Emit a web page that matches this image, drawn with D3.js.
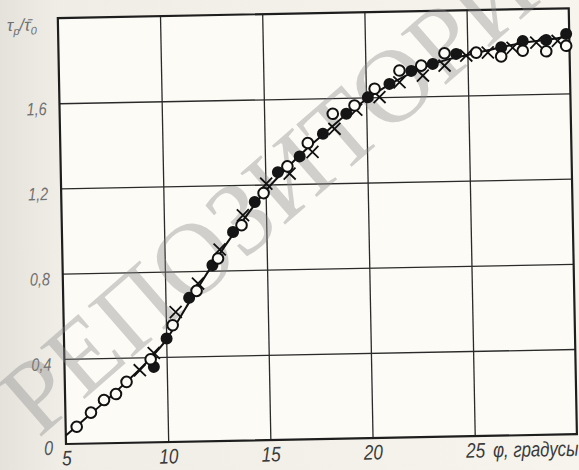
<!DOCTYPE html>
<html>
<head>
<meta charset="utf-8">
<script src="https://cdn.jsdelivr.net/npm/d3@7"></script>
<style>
  html, body { margin: 0; padding: 0; background: #f2f0e8; }
  svg { display: block; }
</style>
</head>
<body>
<svg id="chart" width="579" height="470"></svg>
<script>
// ---------- data ----------
const xTicks = [5, 10, 15, 20, 25, 30];
const yTicks = [0, 0.4, 0.8, 1.2, 1.6, 2.0];
const xTickLabels = ["5", "10", "15", "20", "25", ""];
const yTickLabels = ["0", "0,4", "0,8", "1,2", "1,6", ""];

const lineX = [5, 6, 7, 8, 9, 10, 11, 12, 13, 14, 15, 16, 17, 18, 19, 20, 21, 22, 23, 24, 25, 26, 27, 28, 29, 30];
const lineY = [0.04, 0.12, 0.20, 0.285, 0.375, 0.48, 0.63, 0.78, 0.92, 1.05, 1.17, 1.27, 1.36, 1.44, 1.52, 1.59, 1.65, 1.70, 1.74, 1.77, 1.79, 1.81, 1.83, 1.845, 1.855, 1.87];

const openX = [5.54, 6.25, 6.90, 7.49, 8.02, 9.22, 10.33, 11.53, 12.61, 13.79, 14.90, 16.09, 17.11, 18.36, 19.43, 20.43, 21.66, 22.73, 23.88, 25.43, 26.65, 27.71, 28.86, 29.84];
const openY = [0.08, 0.145, 0.203, 0.23, 0.286, 0.39, 0.548, 0.707, 0.857, 1.011, 1.16, 1.283, 1.391, 1.526, 1.563, 1.64, 1.723, 1.744, 1.80, 1.80, 1.78, 1.805, 1.80, 1.824];

const filledX = [9.37, 10.02, 11.16, 12.33, 13.37, 14.46, 15.62, 16.70, 17.86, 19.02, 20.09, 21.16, 22.24, 23.30, 24.45, 26.66, 27.72, 28.87, 29.85];
const filledY = [0.354, 0.486, 0.675, 0.826, 0.98, 1.119, 1.257, 1.329, 1.433, 1.525, 1.60, 1.661, 1.72, 1.751, 1.796, 1.823, 1.85, 1.853, 1.88];

const crossX = [8.68, 9.38, 10.49, 11.61, 12.70, 13.87, 15.04, 16.19, 17.33, 18.43, 19.51, 20.66, 21.65, 22.80, 23.87, 24.94, 26.0, 27.22, 28.38, 29.43];
const crossY = [0.34, 0.419, 0.61, 0.741, 0.899, 1.058, 1.204, 1.249, 1.348, 1.455, 1.543, 1.60, 1.668, 1.697, 1.742, 1.787, 1.80, 1.82, 1.842, 1.848];

const watermark = "РЕПОЗИТОРИЙ";
const xTitle = "φ, градусы";

// ---------- layout ----------
const svg = d3.select("#chart");
const L = 66, B = 444, W = 511, H = 426;
const tilt = -1.1;

// paper background
const defs = svg.append("defs");
const grad = defs.append("linearGradient").attr("id", "paper").attr("x1", 0).attr("x2", 1).attr("y1", 0).attr("y2", 0);
grad.append("stop").attr("offset", "0").attr("stop-color", "#e4e2db");
grad.append("stop").attr("offset", "0.1").attr("stop-color", "#efede6");
grad.append("stop").attr("offset", "1").attr("stop-color", "#f6f4ec");
svg.append("rect").attr("width", 579).attr("height", 470).attr("fill", "url(#paper)");

const g = svg.append("g").attr("transform", `rotate(${tilt}, ${L}, ${B})`);

const x = d3.scaleLinear().domain([5, 30]).range([L, L + W]);
const y = d3.scaleLinear().domain([0, 2.0]).range([B, B - H]);

// plot area
g.append("rect").attr("x", L).attr("y", B - H).attr("width", W).attr("height", H).attr("fill", "#fcfbf6");

// grid via axes
const gx = g.append("g").attr("transform", `translate(0,${B})`)
  .call(d3.axisBottom(x).tickValues(xTicks.slice(1, -1)).tickSize(-H).tickFormat(""));
gx.select(".domain").remove();
gx.selectAll(".tick line").attr("stroke", "#2a2a2a").attr("stroke-width", 1.3);

const gy = g.append("g").attr("transform", `translate(${L},0)`)
  .call(d3.axisLeft(y).tickValues(yTicks.slice(1, -1)).tickSize(-W).tickFormat(""));
gy.select(".domain").remove();
gy.selectAll(".tick line").attr("stroke", "#2a2a2a").attr("stroke-width", 1.3);

// frame
g.append("rect").attr("x", L).attr("y", B - H).attr("width", W).attr("height", H)
  .attr("fill", "none").attr("stroke", "#1e1e1e").attr("stroke-width", 2.2);

// tick labels
const fontFam = "'Liberation Sans', 'DejaVu Sans', sans-serif";
const lx = g.append("g").attr("transform", `translate(0,${B})`)
  .call(d3.axisBottom(x).tickValues(xTicks).tickSize(0).tickPadding(0)
    .tickFormat((d, i) => xTickLabels[i]));
lx.select(".domain").remove();
lx.selectAll("text").attr("font-family", fontFam).attr("font-style", "italic")
  .attr("font-size", 21).attr("fill", "#3a3a3a").attr("dy", null).attr("y", 21.5)
  .attr("textLength", (d, i) => xTickLabels[i].length * 9.5 || null)
  .attr("lengthAdjust", "spacingAndGlyphs");

const ly = g.append("g").attr("transform", `translate(${L},0)`)
  .call(d3.axisLeft(y).tickValues(yTicks).tickSize(0).tickPadding(13)
    .tickFormat((d, i) => yTickLabels[i]));
ly.select(".domain").remove();
ly.selectAll("text").attr("font-family", fontFam).attr("font-style", "italic")
  .attr("font-size", 18).attr("fill", "#707070").attr("dy", null).attr("y", 11)
  .attr("textLength", (d, i) => (yTickLabels[i].length === 1 ? 9 : (yTickLabels[i].length ? 20 : null)))
  .attr("lengthAdjust", "spacingAndGlyphs");
ly.selectAll("text").filter((d, i) => i === 0).attr("fill", "#555").attr("font-size", 20).attr("y", 10);

// axis titles (horizontally condensed like the original typeface)
g.append("text")
  .attr("transform", `translate(${x(25) + 18},${B + 21.5}) scale(0.8,1)`)
  .attr("font-family", fontFam).attr("font-style", "italic").attr("font-size", 21)
  .attr("fill", "#3a3a3a")
  .text(xTitle);

const yt = g.append("text").attr("x", 15).attr("y", 30)
  .attr("font-family", fontFam).attr("font-style", "italic").attr("font-size", 17)
  .attr("fill", "#707070");
yt.append("tspan").text("τ");
yt.append("tspan").attr("font-size", 11).attr("dy", 4).text("р");
yt.append("tspan").attr("dy", -4).text("/τ̄");
yt.append("tspan").attr("font-size", 11).attr("dy", 4).text("0");

// watermark (beneath the data marks)
svg.append("text")
  .attr("transform", "translate(296,168) rotate(-41)")
  .attr("text-anchor", "middle").attr("dominant-baseline", "central")
  .attr("font-family", "'Liberation Serif', 'DejaVu Serif', serif")
  .attr("font-size", 104).attr("fill", "#8a8a8a").attr("fill-opacity", 0.38)
  .text(watermark);

const gm = svg.append("g").attr("transform", `rotate(${tilt}, ${L}, ${B})`);

// curve
const curve = d3.line().x(d => x(d[0])).y(d => y(d[1])).curve(d3.curveMonotoneX);
const linePts = lineX.map((v, i) => [v, lineY[i]]);
gm.append("path").datum(linePts).attr("d", curve)
  .attr("fill", "none").attr("stroke", "#111").attr("stroke-width", 2);

// crosses
const cs = 6;
gm.append("g").selectAll("path").data(crossX.map((v, i) => [v, crossY[i]])).join("path")
  .attr("d", d => `M${x(d[0]) - cs},${y(d[1]) - cs}L${x(d[0]) + cs},${y(d[1]) + cs}M${x(d[0]) - cs},${y(d[1]) + cs}L${x(d[0]) + cs},${y(d[1]) - cs}`)
  .attr("stroke", "#111").attr("stroke-width", 1.8).attr("fill", "none");

// filled circles
gm.append("g").selectAll("circle").data(filledX.map((v, i) => [v, filledY[i]])).join("circle")
  .attr("cx", d => x(d[0])).attr("cy", d => y(d[1])).attr("r", 6)
  .attr("fill", "#151515");

// open circles
gm.append("g").selectAll("circle").data(openX.map((v, i) => [v, openY[i]])).join("circle")
  .attr("cx", d => x(d[0])).attr("cy", d => y(d[1])).attr("r", 5.3)
  .attr("fill", "#fcfbf6").attr("stroke", "#111").attr("stroke-width", 2);
</script>
</body>
</html>
